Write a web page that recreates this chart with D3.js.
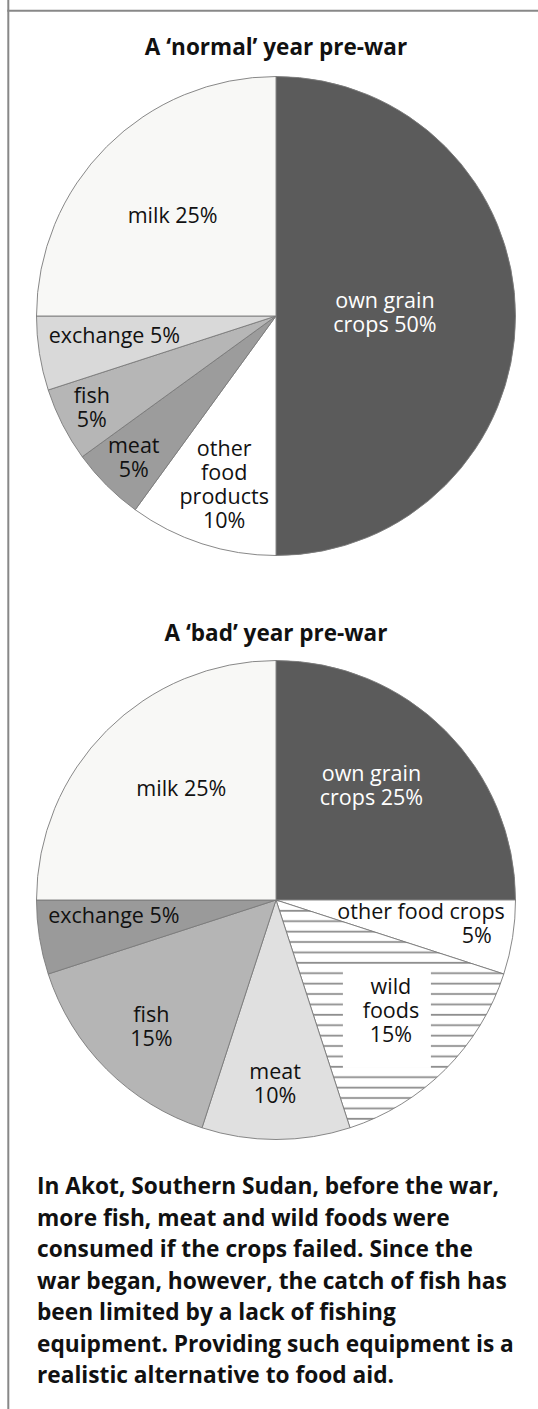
<!DOCTYPE html>
<html>
<head>
<meta charset="utf-8">
<script src="https://cdn.jsdelivr.net/npm/d3@7"></script>
<style>
  html, body { margin: 0; padding: 0; background: #fff; }
  svg { display: block; }
  text { font-family: "Open Sans", "Noto Sans", sans-serif; fill: #111; }
</style>
</head>
<body>
<svg width="538" height="1409"></svg>
<script>
// data
var normalTitle = "A \u2018normal\u2019 year pre-war";
var normalCats = ["own grain crops", "other food products", "meat", "fish", "exchange", "milk"];
var normalVals = [50, 10, 5, 5, 5, 25];
var normalLines = [["own grain", "crops 50%"], ["other", "food", "products", "10%"], ["meat", "5%"], ["fish", "5%"], ["exchange 5%"], ["milk 25%"]];

var badTitle = "A \u2018bad\u2019 year pre-war";
var badCats = ["own grain crops", "other food crops", "wild foods", "meat", "fish", "exchange", "milk"];
var badVals = [25, 5, 15, 10, 15, 5, 25];
var badLines = [["own grain", "crops 25%"], ["other food crops", "5%"], ["wild", "foods", "15%"], ["meat", "10%"], ["fish", "15%"], ["exchange 5%"], ["milk 25%"]];

var caption = [
  "In Akot, Southern Sudan, before the war,",
  "more fish, meat and wild foods were",
  "consumed if the crops failed. Since the",
  "war began, however, the catch of fish has",
  "been limited by a lack of fishing",
  "equipment. Providing such equipment is a",
  "realistic alternative to food aid."
];

// styles
var normalFills = ["#5b5b5b", "#ffffff", "#9c9c9c", "#b6b6b6", "#d9d9d9", "#f8f8f6"];
var badFills = ["#5b5b5b", "#ffffff", "url(#hatch)", "#e0e0e0", "#b5b5b5", "#9a9a9a", "#f8f8f6"];
// label placement: fraction of radius, angle nudge in degrees
var normalPlace = [[0.455, -1.7], [0.74, -1], [0.84, 0], [0.86, 0.4], [0.68, 2], [0.6, -1]];
var badPlace = [[0.62, -5], [0.733, -1], [0.667, -1], [0.768, 0.3], [0.744, -0.6], [0.68, 3.4], [0.61, 4.6]];

var svg = d3.select("svg"),
    radius = 239.5,
    cx = 276;

var defs = svg.append("defs");
var pat = defs.append("pattern")
    .attr("id", "hatch")
    .attr("patternUnits", "userSpaceOnUse")
    .attr("width", 20).attr("height", 10.4)
    .attr("y", 1.5);
pat.append("rect").attr("width", 20).attr("height", 10.4).attr("fill", "#fff");
pat.append("rect").attr("y", 8.4).attr("width", 20).attr("height", 1.8).attr("fill", "#8f8f8f");

// frame
svg.append("line").attr("x1", 8.3).attr("y1", 0).attr("x2", 8.3).attr("y2", 1409)
    .attr("stroke", "#888").attr("stroke-width", 2);
svg.append("line").attr("x1", 7.3).attr("y1", 10.8).attr("x2", 538).attr("y2", 10.8)
    .attr("stroke", "#888").attr("stroke-width", 2);

function drawPie(cy, title, titleY, cats, vals, fills, lines, place) {
  svg.append("text")
      .attr("x", cx).attr("y", titleY)
      .attr("text-anchor", "middle")
      .style("font-weight", 700).style("font-size", "22.5px")
      .text(title);

  var pie = d3.pie().sort(null).value(function(d) { return d; });
  var arcs = pie(vals);
  var arc = d3.arc().innerRadius(0).outerRadius(radius);

  var g = svg.append("g").attr("transform", "translate(" + cx + "," + cy + ")");

  g.selectAll("path")
    .data(arcs)
    .enter().append("path")
      .attr("d", arc)
      .attr("fill", function(d, i) { return fills[i]; })
      .attr("stroke", "#7a7a7a")
      .attr("stroke-width", 0.9);

  var lab = g.selectAll("g.lab")
    .data(arcs)
    .enter().append("g")
      .attr("class", "lab")
      .attr("transform", function(d, i) {
        var a = (d.startAngle + d.endAngle) / 2 + place[i][1] * Math.PI / 180,
            r = place[i][0] * radius;
        return "translate(" + (Math.sin(a) * r) + "," + (-Math.cos(a) * r) + ")";
      });

  lab.each(function(d, i) {
    var el = d3.select(this),
        ls = lines[i],
        lh = 24,
        top = -(ls.length - 1) * lh / 2 + 7;
    if (cats[i] == "wild foods") {
      el.append("rect")
        .attr("x", -48).attr("y", -43).attr("width", 88).attr("height", 100)
        .attr("fill", "#fff");
    }
    ls.forEach(function(s, j) {
      var t = el.append("text")
          .attr("y", top + j * lh)
          .style("font-size", "21.5px")
          .attr("text-anchor", "middle")
          .style("fill", i == 0 ? "#fff" : "#111")
          .text(s);
      if (cats[i] == "other food crops") {
        t.attr("text-anchor", "end").attr("x", j == 0 ? 55 : 42);
      }
    });
  });
}

drawPie(316, normalTitle, 55, normalCats, normalVals, normalFills, normalLines, normalPlace);
drawPie(900, badTitle, 641, badCats, badVals, badFills, badLines, badPlace);

svg.append("g").selectAll("text")
  .data(caption)
  .enter().append("text")
    .attr("x", 37)
    .attr("y", function(d, i) { return 1194 + i * 31.5; })
    .style("font-weight", 700).style("font-size", "22.7px")
    .text(function(d) { return d; });
</script>
</body>
</html>
